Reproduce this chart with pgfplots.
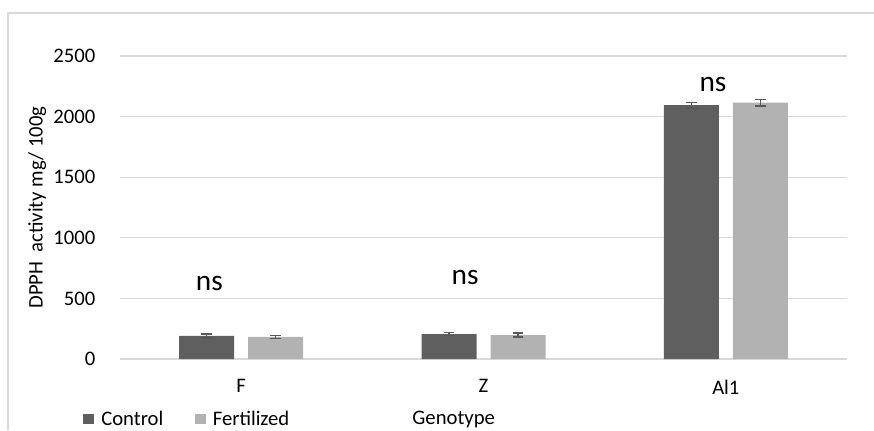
\documentclass[border=0pt]{standalone}
\usepackage{fontspec}
\setmainfont{Carlito}
\usepackage{pgfplots}
\usepackage{pgfplotstable}
\pgfplotsset{compat=1.18}

\definecolor{ctrl}{HTML}{5F5F5F}
\definecolor{fert}{HTML}{B2B2B2}
\definecolor{gridc}{HTML}{D9D9D9}
\definecolor{errc}{HTML}{595959}

% genotype, mean, standard error
\pgfplotstableread{
x y e
0 190 16
1 206 12
2 2094 22
}\control
\pgfplotstableread{
x y e
0 183 12
1 198 15
2 2115 28
}\fertilized

\begin{document}
\begin{tikzpicture}
\path[use as bounding box] (0pt,0pt) rectangle (655.5pt,322.5pt);
% chart frame
\draw[gridc,line width=0.8pt] (6pt,0pt) -- (6pt,312.75pt) -- (655.5pt,312.75pt);
\begin{axis}[
  at={(90pt,53.25pt)}, anchor=south west,
  scale only axis,
  width=545.25pt, height=227.25pt,
  ybar=10.5pt, bar width=41.25pt,
  xmin=-0.5, xmax=2.5, ymin=0, ymax=2500,
  xtick={0,1,2}, xticklabels={F,Z,Al1},
  ytick={0,500,1000,1500,2000,2500},
  axis line style={draw=none},
  major tick length=0pt,
  ymajorgrids, grid style={gridc,line width=1pt},
  font=\fontsize{15.5}{18}\selectfont,
  /pgf/number format/assume math mode=true,
  /pgf/number format/1000 sep={},
  yticklabel style={xshift=-15pt},
  xticklabel style={yshift=-12pt},
  ylabel={DPPH\ \ activity mg/ 100g},
  ylabel style={at={(axis description cs:-0.114,0.5)},anchor=center},
  xlabel={Genotype},
  xlabel style={at={(axis description cs:0.459,-0.198)},anchor=center},
  legend style={at={(axis description cs:-0.051,-0.198)},anchor=west,
    draw=none,fill=none,legend columns=2,
    /tikz/every even column/.append style={column sep=21.5pt},
    inner sep=0pt},
  legend cell align=left,
  legend image code/.code={%
    \fill[#1] (0pt,-4.1pt) rectangle (8.25pt,4.1pt);
    \path (11.6pt,0pt);},
  error bars/error bar style={errc,line width=1.1pt},
  error bars/error mark options={rotate=90,mark size=4pt,errc,line width=1.1pt},
  clip=false,
]
\addplot[fill=ctrl,draw=none,
  error bars/.cd,y dir=both,y explicit]
  table[x=x,y=y,y error=e]{\control};
\addplot[fill=fert,draw=none,
  error bars/.cd,y dir=both,y explicit]
  table[x=x,y=y,y error=e]{\fertilized};
\legend{Control,Fertilized}
\node[font=\fontsize{22}{24}\selectfont] at (axis cs:-0.131,627) {ns};
\node[font=\fontsize{22}{24}\selectfont] at (axis cs:0.924,676) {ns};
\node[font=\fontsize{22}{24}\selectfont] at (axis cs:1.947,2267) {ns};
\end{axis}
\end{tikzpicture}
\end{document}
